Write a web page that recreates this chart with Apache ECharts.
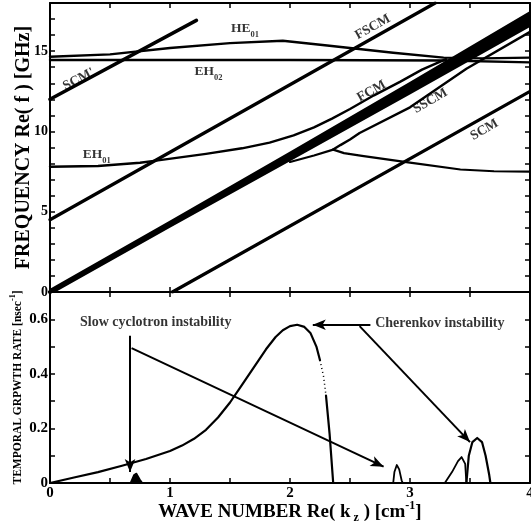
<!DOCTYPE html>
<html><head><meta charset="utf-8">
<script src="https://cdn.jsdelivr.net/npm/echarts@6/dist/echarts.min.js"></script>
<style>html,body{margin:0;padding:0;background:#fff}#c{width:531px;height:528px}</style>
</head><body><div id="c"></div>
<script>
// ---------- DATA (top panel: dispersion, f in GHz vs k in cm^-1) ----------
var scmPrime = [[0, 12.0], [1.22, 16.92]];
var fscm = [[0, 4.5], [3.21, 18]];
var bandUpper = [[0, 0.2], [1, 4.45], [2, 8.75], [3, 13.1], [4, 17.5]];
var bandLower = [[0, -0.2], [1, 4.0], [2, 8.15], [3, 12.3], [4, 16.5]];
var beamCenter = [[0, 0], [4, 17.0]];
var eh01Fcm = [[0, 7.8], [0.4, 7.85], [0.75, 8.05], [0.9, 8.2], [1.1, 8.4], [1.3, 8.6], [1.6, 8.95], [1.83, 9.3], [2.03, 9.75], [2.2, 10.25], [2.35, 10.8], [2.5, 11.4], [2.7, 12.25], [2.92, 13.1], [3.1, 13.85], [3.3, 14.5]];
var sscmJoin = [[2.0, 8.1], [2.2, 8.5], [2.36, 8.87]];
var sscmUp = [[2.36, 8.87], [2.42, 9.15], [2.5, 9.5], [2.58, 9.9], [3.0, 11.5], [3.47, 13.9], [4, 16.2]];
var sscmLow = [[2.36, 8.87], [2.45, 8.65], [2.6, 8.48], [3.0, 8.06], [3.42, 7.63], [3.7, 7.52], [4, 7.5]];
var scm = [[1.02, 0], [4, 12.5]];
var he01 = [[0, 14.65], [0.5, 14.8], [1.0, 15.2], [1.5, 15.5], [1.94, 15.65], [2.31, 15.35], [2.86, 14.9], [3.28, 14.6], [3.6, 14.55], [4, 14.6]];
var eh02 = [[0, 14.45], [2, 14.45], [3.3, 14.42], [4, 14.3]];
var topLabels = ['{n|HE}{s|01}', '{n|EH}{s|02}', '{n|EH}{s|01}', "{n|SCM'}", '{n|FSCM}', '{n|FCM}', '{n|SSCM}', '{n|SCM}'];
var topLabelPos = [[1.625, 16.4], [1.32, 13.75], [0.39, 8.56], [0.24, 13.25], [2.69, 16.5], [2.68, 12.5], [3.17, 11.9], [3.62, 10.1]];
var topLabelRot = [0, 0, 0, 28, 29, 29, 30, 30];

// ---------- DATA (bottom panel: temporal growth rate, nsec^-1) ----------
var cherenkov = [[0, 0], [0.2, 0.02], [0.4, 0.04], [0.6, 0.063], [0.8, 0.088], [1.0, 0.117], [1.1, 0.137], [1.2, 0.162], [1.3, 0.195], [1.4, 0.24], [1.5, 0.295], [1.6, 0.36], [1.7, 0.425], [1.8, 0.49], [1.88, 0.535], [1.94, 0.56], [2.0, 0.575], [2.06, 0.58], [2.12, 0.572], [2.17, 0.55], [2.22, 0.5], [2.25, 0.45]];
var cherenkovDotted = [[2.25, 0.45], [2.28, 0.39], [2.3, 0.32]];
var cherenkovTail = [[2.3, 0.32], [2.33, 0.18], [2.36, 0]];
var peak1 = [[0.67, 0], [0.7, 0.03], [0.72, 0.035], [0.75, 0.012], [0.77, 0]];
var peak2 = [[2.86, 0], [2.87, 0.04], [2.89, 0.066], [2.91, 0.05], [2.93, 0.01], [2.94, 0]];
var peak3 = [[3.29, 0], [3.35, 0.04], [3.4, 0.08], [3.43, 0.095], [3.46, 0.07], [3.47, 0]];
var peak4 = [[3.47, 0], [3.49, 0.1], [3.52, 0.15], [3.56, 0.165], [3.6, 0.15], [3.63, 0.1], [3.66, 0.03], [3.67, 0]];
var arrows = [
  [[0.667, 0.54], [0.667, 0.04]],
  [[0.68, 0.494], [2.78, 0.06]],
  [[2.67, 0.58], [2.19, 0.58]],
  [[2.58, 0.575], [3.5, 0.15]]
];
var botLabels = ['Slow cyclotron instability', 'Cherenkov instability'];
var botLabelPos = [[0.25, 0.59], [2.71, 0.585]];

var xTicks = [0, 1, 2, 3, 4];
var topYTicks = [0, 5, 10, 15];
var botYTicks = [0, 0.2, 0.4, 0.6];

// ---------- CHART ----------
var SERIF = "'Liberation Serif','DejaVu Serif',serif";
var chart = echarts.init(document.getElementById('c'), null, {renderer: 'canvas'});
var lineStyleAx = {color: '#000', width: 2};
function xAx(grid, pos, showLabel, name) {
  return {
    type: 'value', gridIndex: grid, position: pos, min: 0, max: 4, interval: 0.5,
    axisLine: {onZero: false, lineStyle: lineStyleAx},
    axisTick: {inside: true, length: 5, lineStyle: {color: '#000', width: 1.5}},
    splitLine: {show: false},
    axisLabel: {show: showLabel, color: '#000', fontFamily: SERIF, fontWeight: 'bold', fontSize: 15, margin: 3,
      formatter: function (v) { return xTicks.indexOf(v) >= 0 ? String(v) : ''; }},
    name: name || '', nameLocation: 'middle', nameGap: 17, nameMoveOverlap: false,
    nameTextStyle: {color: '#000', fontFamily: SERIF, fontWeight: 'bold', fontSize: 19,
      rich: {a: {fontSize: 19, fontFamily: SERIF, fontWeight: 'bold', color: '#000', lineHeight: 22, verticalAlign: 'bottom'},
             b: {fontSize: 12, fontFamily: SERIF, fontWeight: 'bold', color: '#000', lineHeight: 22, verticalAlign: 'bottom', padding: [0, 0, -2, 0]},
             c: {fontSize: 12, fontFamily: SERIF, fontWeight: 'bold', color: '#000', lineHeight: 22, verticalAlign: 'top'}}}
  };
}
function yAx(grid, pos, max, interval, showLabel, labelSize, name, nameSize, nameGap, fmt) {
  return {
    type: 'value', gridIndex: grid, position: pos, min: 0, max: max, interval: interval,
    axisLine: {onZero: false, lineStyle: lineStyleAx},
    axisTick: {inside: true, length: 5, lineStyle: {color: '#000', width: 1.5}},
    splitLine: {show: false},
    axisLabel: {show: showLabel, color: '#000', fontFamily: SERIF, fontWeight: 'bold', fontSize: labelSize, margin: 2,
      formatter: fmt},
    name: name || '', nameLocation: 'middle', nameGap: nameGap || 0, nameMoveOverlap: false,
    nameTextStyle: {color: '#000', fontFamily: SERIF, fontWeight: 'bold', fontSize: nameSize,
      rich: {a: {fontSize: nameSize, fontFamily: SERIF, fontWeight: 'bold', color: '#000', lineHeight: nameSize + 4, verticalAlign: 'bottom'},
             c: {fontSize: nameSize * 0.7, fontFamily: SERIF, fontWeight: 'bold', color: '#000', lineHeight: nameSize + 4, verticalAlign: 'top'}}}
  };
}
function near(list, v) { for (var i = 0; i < list.length; i++) if (Math.abs(list[i] - v) < 1e-6) return true; return false; }
var fmtTop = function (v) { return near(topYTicks, v) ? String(v) : ''; };
var fmtBot = function (v) { return near(botYTicks, v) ? (v === 0 ? '0' : v.toFixed(1)) : ''; };

function ln(data, w, grid, extra) {
  var s = {type: 'line', data: data, xAxisIndex: grid * 2, yAxisIndex: grid * 2, showSymbol: false, symbol: 'none',
    smooth: false, lineStyle: {color: '#000', width: w, join: 'round', cap: 'round'}, silent: true, animation: false, clip: true, z: 3};
  if (extra) for (var k in extra) s[k] = extra[k];
  return s;
}
var subRich = {
  n: {fontSize: 13.5, fontFamily: SERIF, fontWeight: 'bold', color: '#000', lineHeight: 16, verticalAlign: 'middle'},
  s: {fontSize: 8.5, fontFamily: SERIF, fontWeight: 'bold', color: '#000', lineHeight: 16, verticalAlign: 'bottom', padding: [0, 0, -3, 0]}
};

var series = [
  ln(scmPrime, 3.5, 0), ln(fscm, 3.2, 0), ln(beamCenter, 4, 0), ln(eh01Fcm, 2.4, 0),
  ln(sscmJoin, 2.2, 0), ln(sscmUp, 2.4, 0), ln(sscmLow, 2.2, 0), ln(scm, 3.2, 0),
  ln(he01, 2.4, 0), ln(eh02, 2.4, 0),
  {type: 'custom', xAxisIndex: 0, yAxisIndex: 0, data: [0], clip: true, silent: true, animation: false, z: 4,
    renderItem: function (params, api) {
      var pts = bandUpper.map(function (p) { return api.coord(p); })
        .concat(bandLower.slice().reverse().map(function (p) { return api.coord(p); }));
      return {type: 'polygon', shape: {points: pts}, style: {fill: '#000'}};
    }},
  {type: 'scatter', xAxisIndex: 0, yAxisIndex: 0, symbolSize: 0, silent: true, animation: false, z: 6,
    data: topLabelPos.map(function (p, i) {
      return {value: p, label: {show: true, position: 'inside', formatter: topLabels[i], rotate: topLabelRot[i], rich: subRich}};
    })},
  ln(cherenkov, 2.2, 1), ln(cherenkovDotted, 1.5, 1, {lineStyle: {color: '#000', width: 1.5, type: [1, 3]}}), ln(cherenkovTail, 2.2, 1),
  ln(peak1, 1.5, 1, {areaStyle: {color: '#000', opacity: 1}}),
  ln(peak2, 1.8, 1), ln(peak3, 1.8, 1), ln(peak4, 2.2, 1),
  {type: 'line', xAxisIndex: 2, yAxisIndex: 2, data: [], silent: true, animation: false,
    markLine: {silent: true, animation: false, symbol: ['none', 'arrow'], symbolSize: [8, 13],
      lineStyle: {color: '#000', width: 2, type: 'solid'}, label: {show: false},
      data: arrows.map(function (a) { return [{coord: a[0]}, {coord: a[1]}]; })}},
  {type: 'scatter', xAxisIndex: 2, yAxisIndex: 2, symbolSize: 0, silent: true, animation: false, z: 6,
    data: botLabelPos.map(function (p, i) {
      return {value: p, label: {show: true, position: 'right', distance: 0, formatter: botLabels[i],
        fontFamily: SERIF, fontWeight: 'bold', fontSize: 14, color: '#000'}};
    })}
];

chart.setOption({
  animation: false,
  backgroundColor: '#fff',
  grid: [
    {left: 50, top: 3, width: 480, height: 289, show: false, containLabel: false, outerBoundsMode: 'none'},
    {left: 50, top: 292, width: 480, height: 191, show: false, containLabel: false, outerBoundsMode: 'none'}
  ],
  xAxis: [
    xAx(0, 'bottom', false), xAx(0, 'top', false),
    xAx(1, 'bottom', true, '{a|WAVE NUMBER Re( k}{b| z}{a| ) [cm}{c|-1}{a|]}'), xAx(1, 'top', false)
  ],
  yAxis: [
    yAx(0, 'left', 18, 1, true, 14, 'FREQUENCY Re( f ) [GHz]', 20, 16, fmtTop),
    yAx(0, 'right', 18, 1, false, 14, '', 12, 0, fmtTop),
    yAx(1, 'left', 0.7, 0.1, true, 15, '{a|TEMPORAL GRPWTH RATE [nsec}{c|-1}{a|]}', 11.5, 26, fmtBot),
    yAx(1, 'right', 0.7, 0.1, false, 14, '', 10, 0, fmtBot)
  ],
  series: series
});
</script></body></html>
